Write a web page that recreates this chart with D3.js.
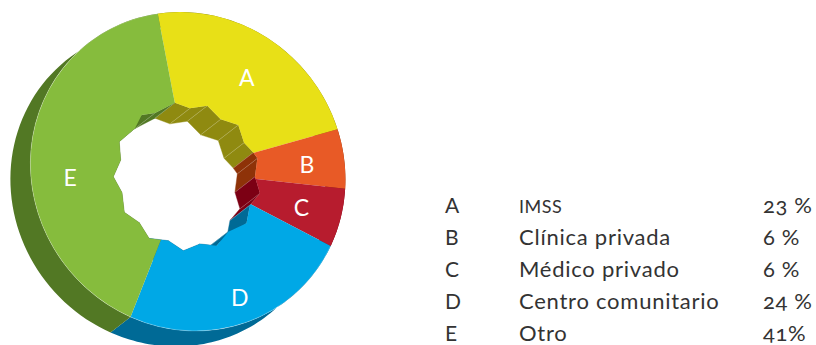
<!DOCTYPE html>
<html>
<head>
<meta charset="utf-8">
<script src="https://cdn.jsdelivr.net/npm/d3@7"></script>
<style>
  html, body { margin: 0; padding: 0; background: #fff; }
  svg { display: block; }
  text { font-family: Lato, "Open Sans", sans-serif; font-feature-settings: "onum"; }
</style>
</head>
<body>
<svg id="chart"></svg>
<script>
//chart data
var letters = ["A", "B", "C", "D", "E"];
var names = ["IMSS", "Clínica privada", "Médico privado", "Centro comunitario", "Otro"];
var values = [23, 6, 6, 24, 41];
var valueLabels = ["23 %", "6 %", "6 %", "24 %", "41%"];

//jagged hole outline, polar: degrees clockwise from north, radius in px
var holeAngles = [-10, 2.7, 17.3, 33.1, 48.1, 63.6, 74.5, 79.8, 94.8, 107, 118.4, 131.3, 145.7, 158.3,
  169.9, 182.6, 195, 209.4, 222.7, 236.6, 251.6, 265.6, 279.4, 293.4, 309.4, 321, 331.1];
var holeRadii = [69.4, 62.7, 68.4, 61.7, 68.9, 63.7, 68.8, 71.5, 68.2, 76.3, 71.6, 79.2, 73.4, 80.4,
  74.1, 79.8, 72.1, 77.3, 70.3, 75.1, 68.5, 73.9, 67.2, 73.8, 67.3, 72, 66.2];

//colours
var faceColors = ["#e8e017", "#e85a26", "#b71c2e", "#00a8e6", "#86bc3d"];
var wallColors = ["#8f8a10", "#8e3208", "#7c0014", "#006a96", "#527824"];

//layout
var width = 816, height = 345;
var cx = 187, cy = 171;
var radius = 158.45;
//the disc is a tilted ellipse: long axis runs NW-SE
var tilt = 52, stretchA = 1.0256, stretchB = 0.9744;
var discDx = 0.9, discDy = 0.5;
var depthX = -20, depthY = 15.5;
var startDeg = -9.6;
var labelAngles = [32.5, 87, 107.5, 157.4, 267];
var labelRadii = [111.5, 120, 120, 137, 117];

var rad = function(deg) { return deg * Math.PI / 180; };

var svg = d3.select("#chart")
  .attr("width", width)
  .attr("height", height);

var pie = d3.pie()
  .sort(null)
  .startAngle(rad(startDeg))
  .endAngle(rad(startDeg + 360));
var slices = pie(values);

var arc = d3.arc().innerRadius(0).outerRadius(radius);
var rimArc = d3.arc().innerRadius(radius).outerRadius(radius);

//polar to xy, same convention as d3.arc
function polar(angle, r) {
  return [r * Math.sin(angle), -r * Math.cos(angle)];
}

//same tilt as the svg transform on the front face, for the swept wall
var discTransform = "translate(" + discDx + "," + discDy + ") rotate(" + tilt + ") scale(" + stretchA + "," + stretchB + ") rotate(" + (-tilt) + ")";
function rim(angle) {
  var p = polar(angle, radius);
  var c = Math.cos(rad(tilt)), s = Math.sin(rad(tilt));
  var u = (p[0] * c + p[1] * s) * stretchA;
  var v = (-p[0] * s + p[1] * c) * stretchB;
  return [u * c - v * s + discDx, u * s + v * c + discDy];
}

var holePoints = holeAngles.map(function(a, i) { return { angle: rad(a), r: holeRadii[i] }; });

var holePath = d3.lineRadial()
  .angle(function(d) { return d.angle; })
  .radius(function(d) { return d.r; })
  .curve(d3.curveLinearClosed)(holePoints);

function sliceIndexAt(angle) {
  var a = angle;
  if (a < rad(startDeg)) a += 2 * Math.PI;
  for (var i = 0; i < slices.length; i++) {
    if (a >= slices[i].startAngle && a < slices[i].endAngle) return i;
  }
  return slices.length - 1;
}

var g = svg.append("g").attr("transform", "translate(" + cx + "," + cy + ")");

//clip that cuts the hole out of the front face
svg.append("defs").append("clipPath")
  .attr("id", "holeClip")
  .append("path")
  .attr("clip-rule", "evenodd")
  .attr("d", "M-400,-400H800V400H-400Z" + holePath);

//outer wall, swept from the front rim towards the back
var wallLine = d3.line();
g.append("g").attr("class", "outer-walls")
  .selectAll("path")
  .data(slices)
  .enter()
  .append("path")
  .attr("fill", function(d, i) { return wallColors[i]; })
  .attr("d", function(d) {
    var steps = d3.range(0, 1.0001, 1 / 60).map(function(t) {
      return d.startAngle + t * (d.endAngle - d.startAngle);
    });
    var front = steps.map(rim);
    var back = steps.slice().reverse().map(function(a) {
      var p = rim(a);
      return [p[0] + depthX, p[1] + depthY];
    });
    return wallLine(front.concat(back)) + "Z";
  });

//inner wall, one facet per edge of the hole
var facets = holePoints.map(function(p, i) {
  var q = holePoints[(i + 1) % holePoints.length];
  var a2 = q.angle < p.angle ? q.angle + 2 * Math.PI : q.angle;
  return { p: polar(p.angle, p.r), q: polar(q.angle, q.r), mid: (p.angle + a2) / 2 };
});

g.append("g").attr("class", "inner-walls")
  .selectAll("path")
  .data(facets)
  .enter()
  .append("path")
  .attr("fill", function(d) { return wallColors[sliceIndexAt(d.mid)]; })
  .attr("stroke", function(d) { return wallColors[sliceIndexAt(d.mid)]; })
  .attr("stroke-width", 0.4)
  .attr("d", function(d) {
    return wallLine([d.p, d.q, [d.q[0] + depthX, d.q[1] + depthY], [d.p[0] + depthX, d.p[1] + depthY]]) + "Z";
  });

//pale creases between the facets
g.append("g").attr("class", "creases")
  .selectAll("line")
  .data(facets)
  .enter()
  .append("line")
  .attr("x1", function(d) { return d.p[0]; })
  .attr("y1", function(d) { return d.p[1]; })
  .attr("x2", function(d) { return d.p[0] + depthX; })
  .attr("y2", function(d) { return d.p[1] + depthY; })
  .attr("stroke", "#fff")
  .attr("stroke-width", 0.6)
  .attr("opacity", 0.35);

//front face
var front = g.append("g").attr("class", "front")
  .attr("clip-path", "url(#holeClip)")
  .append("g")
  .attr("transform", discTransform);

front.selectAll("path.face")
  .data(slices)
  .enter()
  .append("path")
  .attr("class", "face")
  .attr("fill", function(d, i) { return faceColors[i]; })
  .attr("d", arc);

//hairline where the face meets the dark outer wall
front.selectAll("path.rim")
  .data(slices.slice(3))
  .enter()
  .append("path")
  .attr("class", "rim")
  .attr("fill", "none")
  .attr("stroke", "#fff")
  .attr("stroke-width", 0.5)
  .attr("opacity", 0.25)
  .attr("d", rimArc);

//slice letters
g.append("g").attr("class", "slice-labels")
  .selectAll("text")
  .data(letters)
  .enter()
  .append("text")
  .attr("x", function(d, i) { return polar(rad(labelAngles[i]), labelRadii[i])[0]; })
  .attr("y", function(d, i) { return polar(rad(labelAngles[i]), labelRadii[i])[1]; })
  .attr("dy", "0.38em")
  .attr("text-anchor", "middle")
  .attr("fill", "#fff")
  .attr("font-size", 23)
  .text(function(d) { return d; });

//legend table, all three columns share one baseline
var rowY = d3.scaleBand().domain(letters).range([189, 349]);

var rows = svg.append("g").attr("class", "legend")
  .selectAll("g")
  .data(letters)
  .enter()
  .append("g")
  .attr("transform", function(d) { return "translate(0," + (rowY(d) + rowY.bandwidth() / 2 + 8) + ")"; })
  .attr("fill", "#333");

rows.append("text")
  .attr("x", 445)
  .attr("font-size", 21)
  .text(function(d) { return d; });

rows.append("text")
  .attr("x", 519)
  .attr("font-size", function(d, i) { return i === 0 ? 18 : 22; })
  .attr("letter-spacing", function(d, i) { return i === 0 ? 0.5 : 0.75; })
  .text(function(d, i) { return names[i]; });

rows.append("text")
  .attr("x", 763)
  .attr("font-size", 22)
  .attr("letter-spacing", 0.6)
  .text(function(d, i) { return valueLabels[i]; });
</script>
</body>
</html>
